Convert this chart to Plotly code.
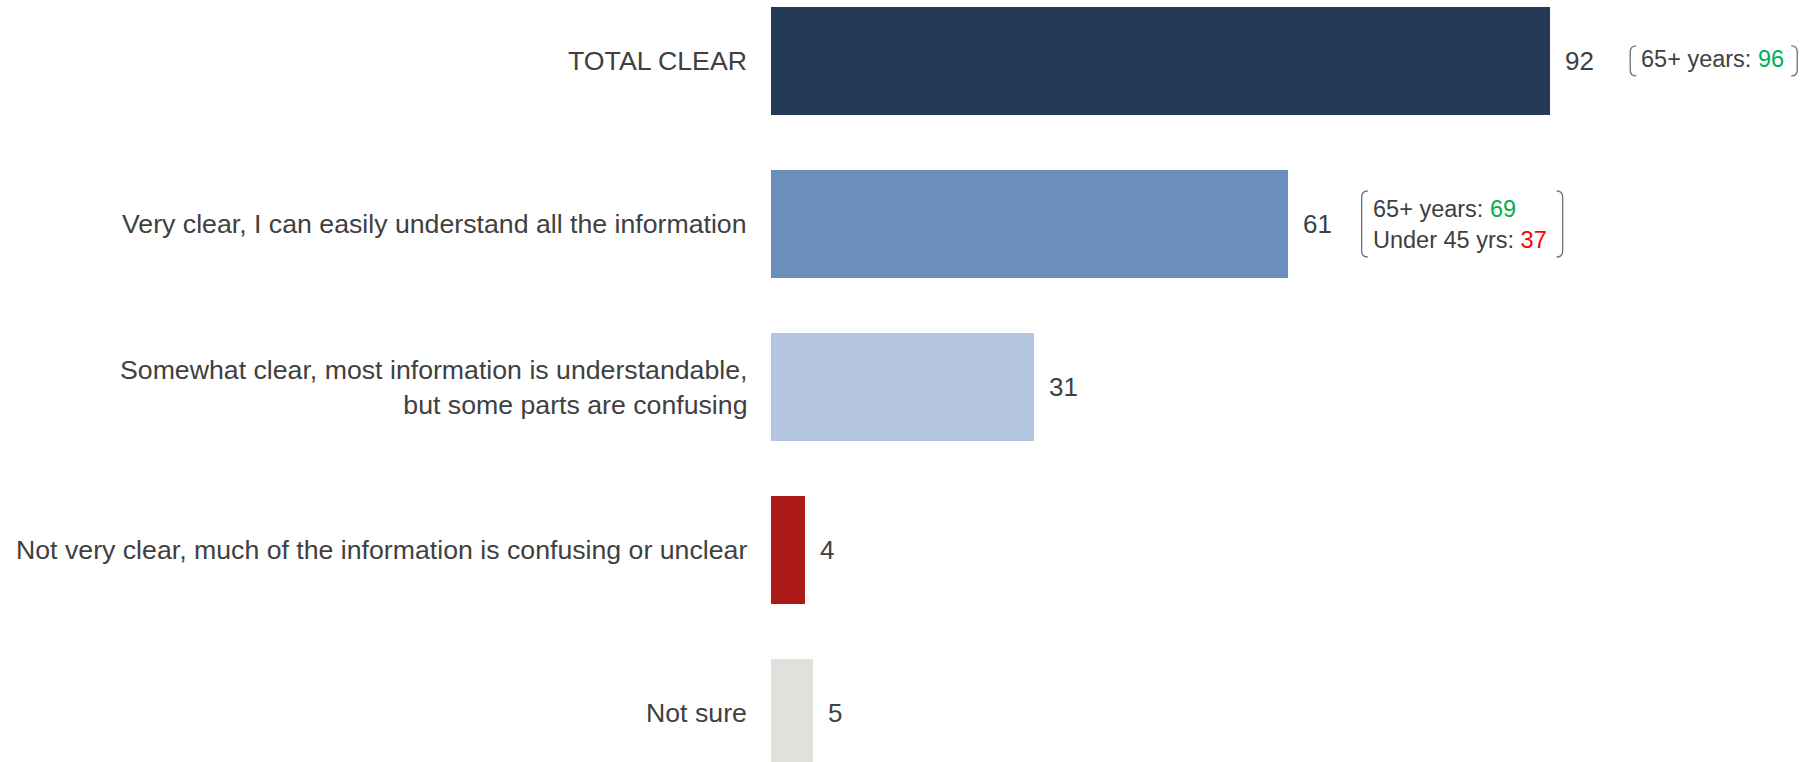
import plotly.graph_objects as go

# Survey responses: how clear is the information?
categories = [
    "TOTAL CLEAR",
    "Very clear, I can easily understand all the information",
    "Somewhat clear, most information is understandable,<br>but some parts are confusing",
    "Not very clear, much of the information is confusing or unclear",
    "Not sure",
]
values = [92, 61, 31, 4, 5]
bar_colors = ["#243A56", "#6A8FBD", "#B4C6DF", "#AB1A17", "#E0E0DC"]

# Age-group call-outs for the first two rows
callout_rows = [0, 1]
callout_lines = [
    [("65+ years: ", "96", "#00B050")],
    [("65+ years: ", "69", "#00B050"), ("Under 45 yrs: ", "37", "#FF0000")],
]

TEXT = "#404040"
FONT = "Arial, Liberation Sans, sans-serif"

W, H = 1818, 762
left_margin = 771
px_per_unit = 8.47
x_max = (W - left_margin) / px_per_unit

fig = go.Figure(
    go.Bar(
        x=values,
        y=list(range(len(categories))),
        orientation="h",
        marker=dict(color=bar_colors, line=dict(width=0)),
        width=0.663,
        hoverinfo="skip",
    )
)

annotations = []
for i, (cat, v) in enumerate(zip(categories, values)):
    # category label to the left of the bar
    annotations.append(dict(
        x=0, xref="paper", y=i, yref="y", text=cat, showarrow=False,
        xanchor="right", yanchor="middle", xshift=-22, align="right",
        font=dict(size=26.7, color=TEXT, family=FONT),
    ))
    # value label at the end of the bar
    annotations.append(dict(
        x=v, xref="x", y=i, yref="y", text=str(v), showarrow=False,
        xanchor="left", yanchor="middle", xshift=13,
        font=dict(size=26, color=TEXT, family=FONT),
    ))

# bracket geometry for each call-out (pixels)
shapes = []
bracket_offsets = [80, 74]
bracket_widths = [167, 201]
bracket_heights = [30, 66]
bracket_yshift = [1.5, 0]
for k, row in enumerate(callout_rows):
    lines = callout_lines[k]
    text = "<br>".join(
        f"{label}<span style='color:{c}'>{num}</span>" for label, num, c in lines
    )
    v = values[row]
    off = bracket_offsets[k]
    annotations.append(dict(
        x=v, xref="x", y=row, yref="y", text=text, showarrow=False,
        xanchor="left", yanchor="middle", xshift=off + 9,
        yshift=bracket_yshift[k], align="left",
        font=dict(size=23.5, color=TEXT, family=FONT),
    ))
    w = bracket_widths[k]
    h = bracket_heights[k] / 2
    hook, r = 6, 6
    x0 = off
    x1 = off + w
    left = (f"M {x0 + hook},{h} Q {x0},{h} {x0},{h - r} "
            f"L {x0},{-h + r} Q {x0},{-h} {x0 + hook},{-h}")
    right = (f"M {x1 - hook},{h} Q {x1},{h} {x1},{h - r} "
             f"L {x1},{-h + r} Q {x1},{-h} {x1 - hook},{-h}")
    for p in (left, right):
        shapes.append(dict(
            type="path", path=p, xref="x", yref="y",
            xsizemode="pixel", ysizemode="pixel",
            xanchor=v, yanchor=row,
            line=dict(color="#6E6E6E", width=1.3),
        ))

fig.update_layout(
    width=W, height=H,
    margin=dict(l=left_margin, r=0, t=0, b=0),
    paper_bgcolor="white", plot_bgcolor="white",
    showlegend=False,
    bargap=0,
    xaxis=dict(range=[0, x_max], visible=False, fixedrange=True),
    yaxis=dict(range=[4.30, -0.374], visible=False, fixedrange=True),
    annotations=annotations,
    shapes=shapes,
    font=dict(family=FONT, color=TEXT),
)

fig.write_html("out.html", config={"displayModeBar": False})
